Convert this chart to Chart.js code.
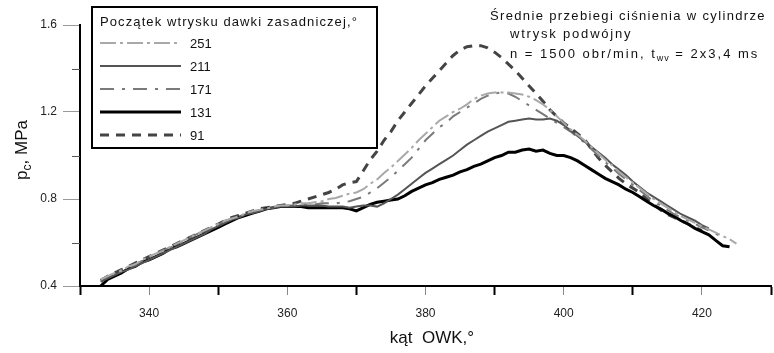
<!DOCTYPE html>
<html>
<head>
<meta charset="utf-8">
<script src="https://cdn.jsdelivr.net/npm/chart.js@4.4.1/dist/chart.umd.min.js"></script>
<style>
  body { margin: 0; background: #fff; }
  #wrap { width: 774px; height: 353px; }
</style>
</head>
<body>
<div id="wrap"><canvas id="c" width="774" height="353"></canvas></div>
<script>
// kąt OWK, deg (333..425, step 1)
const angles = [];
for (let a = 333; a <= 425; a++) angles.push(a);

const seriesNames = ['251', '211', '171', '131', '91'];

const s251 = [
  0.43,0.445,0.46,0.47,0.49,0.50,0.52,0.535,0.55,0.56,0.58,0.595,0.61,0.625,0.64,0.655,0.67,0.685,0.70,0.71,0.72,0.735,0.745,0.75,0.755,0.765,0.77,
  0.77,0.775,0.78,0.78,0.785,0.79,0.80,0.805,0.815,0.825,
  0.83,0.845,0.87,0.89,0.92,0.945,0.975,1.005,1.035,1.07,
  1.10,1.13,1.16,1.18,1.20,1.215,1.235,1.26,1.275,1.285,
  1.29,1.29,1.29,1.285,1.28,1.27,1.255,1.235,1.21,1.18,
  1.15,1.12,1.095,1.07,1.04,1.01,0.98,0.955,0.925,0.90,
  0.875,0.85,0.825,0.80,0.78,0.76,0.74,0.72,0.705,0.69,
  0.675,0.66,0.645,0.63,0.615,0.595
];
const s211 = [
  0.42,0.435,0.45,0.465,0.475,0.49,0.505,0.52,0.535,0.55,0.565,0.58,0.595,0.61,0.625,0.64,0.66,0.675,0.69,0.705,0.715,0.73,0.735,0.745,0.755,0.76,0.765,
  0.765,0.765,0.77,0.77,0.77,0.77,0.765,0.765,0.765,0.76,
  0.765,0.77,0.77,0.765,0.78,0.80,0.82,0.845,0.87,0.895,
  0.92,0.94,0.96,0.98,1.00,1.025,1.05,1.07,1.09,1.11,
  1.125,1.14,1.155,1.16,1.165,1.17,1.165,1.165,1.17,1.16,
  1.14,1.115,1.09,1.065,1.04,1.015,0.99,0.96,0.935,0.91,
  0.88,0.855,0.83,0.81,0.79,0.77,0.75,0.73,0.715,0.70,
  0.68,0.665,null,null,null,null
];
const s171 = [
  0.42,0.44,0.455,0.475,0.485,0.50,0.515,0.53,0.55,0.565,0.575,0.59,0.605,0.625,0.64,0.655,0.665,0.68,0.70,0.71,0.72,0.73,0.74,0.75,0.76,0.76,0.765,
  0.77,0.77,0.775,0.775,0.775,0.78,0.78,0.78,0.785,0.79,
  0.80,0.81,0.83,0.85,0.875,0.90,0.93,0.96,0.99,1.03,
  1.07,1.10,1.13,1.15,1.18,1.20,1.22,1.24,1.26,1.275,
  1.285,1.29,1.285,1.27,1.25,1.23,1.21,1.19,1.17,1.15,
  1.13,1.11,1.085,1.06,1.03,1.00,0.97,0.945,0.915,0.89,
  0.865,0.84,0.815,0.79,0.77,0.75,0.73,0.715,0.70,0.685,
  0.67,0.655,0.64,0.625,null,null
];
const s131 = [
  0.40,0.43,0.445,0.46,0.48,0.49,0.51,0.52,0.535,0.55,0.57,0.58,0.595,0.61,0.625,0.64,0.655,0.67,0.685,0.70,0.715,0.725,0.735,0.745,0.755,0.76,0.765,
  0.765,0.765,0.765,0.76,0.76,0.76,0.76,0.76,0.76,0.755,
  0.745,0.76,0.775,0.785,0.79,0.795,0.80,0.815,0.835,0.85,
  0.865,0.875,0.89,0.90,0.91,0.925,0.935,0.95,0.96,0.975,
  0.99,1.00,1.015,1.015,1.025,1.03,1.02,1.025,1.01,1.00,
  1.00,0.99,0.975,0.955,0.935,0.915,0.895,0.88,0.865,0.845,
  0.83,0.81,0.79,0.77,0.755,0.735,0.72,0.70,0.685,0.665,
  0.65,0.635,0.61,0.585,0.58,null
];
const s91 = [
  0.425,0.445,0.46,0.475,0.49,0.505,0.52,0.535,0.55,0.565,0.58,0.595,0.61,0.625,0.64,0.655,0.67,0.685,0.70,0.715,0.725,0.735,0.745,0.755,0.76,0.765,0.77,
  0.775,0.78,0.79,0.80,0.81,0.82,0.83,0.845,0.865,0.875,
  0.88,0.93,0.98,1.02,1.07,1.11,1.16,1.20,1.24,1.28,
  1.32,1.355,1.39,1.425,1.46,1.485,1.50,1.505,1.505,1.495,
  1.475,1.45,1.42,1.39,1.355,1.32,1.285,1.25,1.21,1.18,
  1.15,1.125,1.10,1.075,1.03,0.99,0.955,0.925,0.895,0.87,
  0.85,0.83,0.80,0.775,0.75,0.73,0.715,0.70,0.685,0.67,
  0.655,null,null,null,null,null
];

const xLabelStep = 20;
const yLabelled = ['0.4', '0.8', '1.2', '1.6'];
const yMinorTicks = [0.6, 1.0, 1.4];

const titleLines = ['Średnie przebiegi ciśnienia w cylindrze', 'wtrysk podwójny'];
const legendTitle = 'Początek wtrysku dawki zasadniczej,°';

const FONT = '"Liberation Sans", Arial, sans-serif';

function pts(s) { return angles.map((a, i) => ({ x: a, y: s[i] })); }

const styles = [
  { borderColor: '#a9a9a9', borderWidth: 2, borderDash: [16, 4, 3, 4] },
  { borderColor: '#555555', borderWidth: 2, borderDash: [] },
  { borderColor: '#7a7a7a', borderWidth: 2, borderDash: [14, 8, 3, 8] },
  { borderColor: '#000000', borderWidth: 3, borderDash: [] },
  { borderColor: '#444444', borderWidth: 3, borderDash: [9, 7] },
];
const allSeries = [s251, s211, s171, s131, s91];

const extras = {
  id: 'extras',
  afterDraw(chart) {
    const ctx = chart.ctx;
    const ys = chart.scales.y;
    ctx.save();
    // minor y ticks
    ctx.strokeStyle = '#555';
    ctx.lineWidth = 1;
    yMinorTicks.forEach(v => {
      const py = Math.round(ys.getPixelForValue(v)) + 0.5;
      ctx.beginPath(); ctx.moveTo(72, py); ctx.lineTo(80, py); ctx.stroke();
    });

    // legend box
    ctx.fillStyle = '#fff';
    ctx.fillRect(92, 7, 285, 141);
    ctx.strokeStyle = '#000';
    ctx.lineWidth = 2;
    ctx.strokeRect(92, 7, 285, 141);
    ctx.fillStyle = '#111';
    ctx.font = '13px ' + FONT;
    ctx.letterSpacing = '1.1px';
    ctx.textBaseline = 'alphabetic';
    ctx.fillText(legendTitle, 100, 26);
    ctx.letterSpacing = '0px';
    const rows = [43, 66, 89, 112, 135];
    chart.data.datasets.forEach((ds, i) => {
      const y = rows[i];
      ctx.strokeStyle = ds.borderColor;
      ctx.lineWidth = ds.borderWidth;
      ctx.setLineDash(ds.borderDash);
      ctx.beginPath(); ctx.moveTo(100, y); ctx.lineTo(181, y); ctx.stroke();
      ctx.setLineDash([]);
      ctx.fillStyle = '#111';
      ctx.font = '13px ' + FONT;
      ctx.textBaseline = 'middle';
      ctx.fillText(ds.label, 190, y + 1);
    });

    // title text, top right
    ctx.textBaseline = 'alphabetic';
    ctx.fillStyle = '#111';
    ctx.font = '13px ' + FONT;
    ctx.letterSpacing = '1.35px';
    ctx.fillText(titleLines[0], 490, 20);
    ctx.letterSpacing = '1.8px';
    ctx.fillText(titleLines[1], 510, 38);
    ctx.letterSpacing = '2px';
    let x = 510;
    const part1 = 'n = 1500 obr/min, t';
    ctx.fillText(part1, x, 58); x += ctx.measureText(part1).width;
    ctx.font = '9px ' + FONT;
    ctx.letterSpacing = '1px';
    ctx.fillText('wv', x, 61); x += ctx.measureText('wv').width;
    ctx.font = '13px ' + FONT;
    ctx.letterSpacing = '2px';
    ctx.fillText(' = 2x3,4 ms', x, 58);
    ctx.letterSpacing = '0px';

    // x axis title
    ctx.font = '17px ' + FONT;
    ctx.textAlign = 'center';
    ctx.fillText('kąt  OWK,°', 432, 343);

    // y axis title (rotated)
    ctx.translate(27, 150);
    ctx.rotate(-Math.PI / 2);
    ctx.textAlign = 'left';
    ctx.font = '17px ' + FONT;
    const wP = ctx.measureText('p').width;
    const wRest = ctx.measureText(', MPa').width;
    ctx.font = '12px ' + FONT;
    const wC = ctx.measureText('c').width;
    let tx = -(wP + wC + wRest) / 2;
    ctx.font = '17px ' + FONT;
    ctx.fillText('p', tx, 0); tx += wP;
    ctx.font = '12px ' + FONT;
    ctx.fillText('c', tx, 4); tx += wC;
    ctx.font = '17px ' + FONT;
    ctx.fillText(', MPa', tx, 0);
    ctx.restore();
  }
};

new Chart(document.getElementById('c'), {
  type: 'line',
  data: {
    datasets: allSeries.map((s, i) => Object.assign({
      label: seriesNames[i],
      data: pts(s),
      pointRadius: 0,
      fill: false,
      tension: 0,
    }, styles[i])),
  },
  options: {
    responsive: false,
    animation: false,
    layout: { padding: { top: 25, right: 3, left: 0, bottom: 0 } },
    plugins: { legend: { display: false }, tooltip: { enabled: false } },
    scales: {
      x: {
        type: 'linear',
        min: 330,
        max: 430,
        afterFit(scale) { scale.height = 67; scale.paddingLeft = 0; scale.paddingRight = 0; },
        border: { display: true, color: '#000', width: 2 },
        grid: {
          drawOnChartArea: false,
          tickLength: 9,
          tickWidth: c => (c.tick && c.tick.value % xLabelStep === 0) ? 1 : 2,
          tickColor: c => (c.tick && c.tick.value % xLabelStep === 0) ? '#888' : '#000',
        },
        ticks: {
          stepSize: 10,
          padding: 11,
          maxRotation: 0,
          autoSkip: false,
          color: '#222',
          font: { family: FONT, size: 12 },
          callback: v => (v % xLabelStep === 0 ? String(v) : ''),
        },
      },
      y: {
        min: 0.4,
        max: 1.6,
        afterFit(scale) { scale.width = 80; },
        border: { display: true, color: '#000', width: 2 },
        grid: {
          drawOnChartArea: false,
          tickLength: 17,
          tickWidth: 1,
          tickColor: c => (c.tick && yLabelled.includes(c.tick.value.toFixed(1))) ? '#999' : 'rgba(0,0,0,0)',
        },
        ticks: {
          stepSize: 0.2,
          padding: 6,
          autoSkip: false,
          color: '#222',
          font: { family: FONT, size: 12 },
          callback: v => (yLabelled.includes(v.toFixed(1)) ? v.toFixed(1) : ''),
        },
      },
    },
  },
  plugins: [extras],
});
</script>
</body>
</html>
